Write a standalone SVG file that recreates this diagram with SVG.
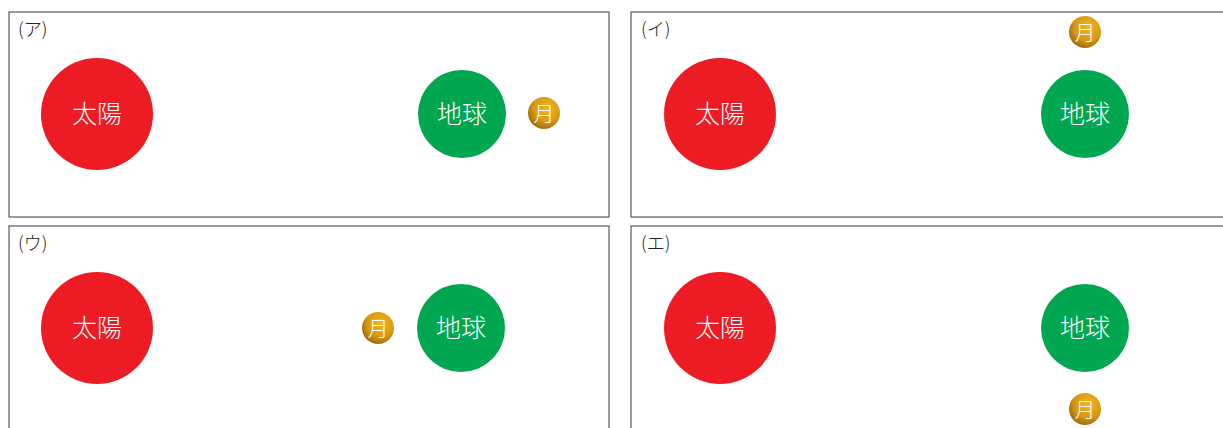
<svg xmlns="http://www.w3.org/2000/svg" width="1223" height="428" viewBox="0 0 1223 428">
<style>
.frame{fill:#fff;stroke:#3a3a3a;stroke-width:1}
.sun{fill:#ed1c24}
.earth{fill:#00a650}
.moon{fill:url(#gold)}
.big{font-family:"Noto Sans CJK JP","Noto Sans",sans-serif;font-size:25px;fill:#fff;text-anchor:middle;font-weight:300}
.sm{font-family:"Noto Sans CJK JP","Noto Sans",sans-serif;font-size:21px;fill:#fff;text-anchor:middle;font-weight:300}
.lab{font-family:"Noto Sans CJK JP","Noto Sans",sans-serif;font-size:18px;fill:#222;font-weight:300}
</style>
<defs>
<radialGradient id="gold" cx="0.6" cy="0.35" r="0.7">
<stop offset="0" stop-color="#f2b51e"/>
<stop offset="0.6" stop-color="#d99a12"/>
<stop offset="1" stop-color="#9a6510"/>
</radialGradient>
</defs>
<rect width="1223" height="428" fill="#fff"/>
<g id="panel-a">
<rect class="frame" x="9" y="12" width="600" height="205"/>
<text class="lab" x="18" y="36">(ア)</text>
<g id="sun-a"><circle class="sun" cx="97" cy="114" r="56"/><text class="big" x="97" y="123">太陽</text></g>
<g id="earth-a"><circle class="earth" cx="462" cy="114" r="44"/><text class="big" x="462" y="123">地球</text></g>
<g id="moon-a"><circle class="moon" cx="544" cy="113" r="16"/><text class="sm" x="544" y="121">月</text></g>
</g>
<g id="panel-b">
<rect class="frame" x="631" y="12" width="600" height="205"/>
<text class="lab" x="641" y="36">(イ)</text>
<g id="sun-b"><circle class="sun" cx="720" cy="114" r="56"/><text class="big" x="720" y="123">太陽</text></g>
<g id="earth-b"><circle class="earth" cx="1085" cy="114" r="44"/><text class="big" x="1085" y="123">地球</text></g>
<g id="moon-b"><circle class="moon" cx="1085" cy="32" r="16"/><text class="sm" x="1085" y="40">月</text></g>
</g>
<g id="panel-c">
<rect class="frame" x="9" y="226" width="600" height="210"/>
<text class="lab" x="18" y="250">(ウ)</text>
<g id="sun-c"><circle class="sun" cx="97" cy="328" r="56"/><text class="big" x="97" y="337">太陽</text></g>
<g id="earth-c"><circle class="earth" cx="461" cy="328" r="44"/><text class="big" x="461" y="337">地球</text></g>
<g id="moon-c"><circle class="moon" cx="378" cy="328" r="16"/><text class="sm" x="378" y="336">月</text></g>
</g>
<g id="panel-d">
<rect class="frame" x="631" y="226" width="600" height="210"/>
<text class="lab" x="641" y="250">(エ)</text>
<g id="sun-d"><circle class="sun" cx="720" cy="328" r="56"/><text class="big" x="720" y="337">太陽</text></g>
<g id="earth-d"><circle class="earth" cx="1085" cy="328" r="44"/><text class="big" x="1085" y="337">地球</text></g>
<g id="moon-d"><circle class="moon" cx="1085" cy="409" r="16"/><text class="sm" x="1085" y="417">月</text></g>
</g>
<g id="connectors"/>
</svg>
